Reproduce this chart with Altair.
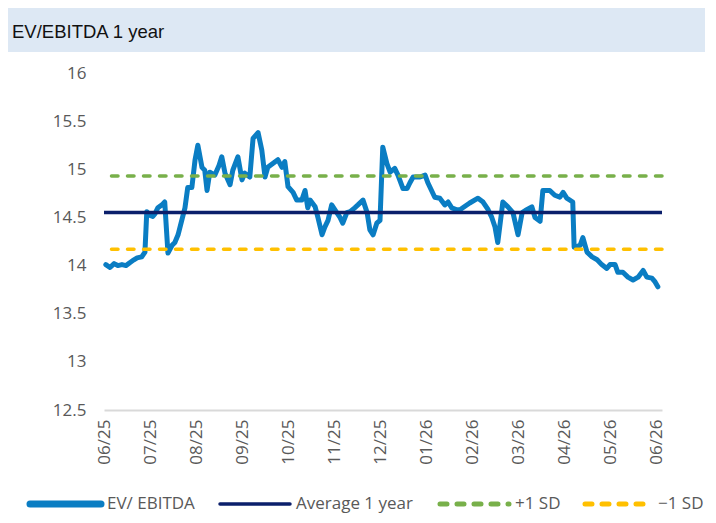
import json
import altair as alt
import pandas as pd

# ---------------- data ----------------
title_text = "EV/EBITDA 1 year"
month_labels = ["06/25", "07/25", "08/25", "09/25", "10/25", "11/25", "12/25",
                "01/26", "02/26", "03/26", "04/26", "05/26", "06/26"]
y_ticks = [12.5, 13, 13.5, 14, 14.5, 15, 15.5, 16]

# position in months since 06/25
t_pos = [0.02, 0.11, 0.20, 0.28, 0.37, 0.46, 0.54, 0.63, 0.70, 0.80, 0.87, 0.91, 0.98,
         1.04, 1.09, 1.15, 1.24, 1.30, 1.37, 1.46, 1.52, 1.59, 1.67, 1.74, 1.80, 1.89,
         1.96, 2.02, 2.11, 2.17, 2.22, 2.28, 2.39, 2.48, 2.54, 2.61, 2.72, 2.78, 2.89,
         2.98, 3.04, 3.15, 3.22, 3.33, 3.41, 3.48, 3.54, 3.65, 3.76, 3.85, 3.91, 3.98,
         4.09, 4.17, 4.28, 4.35, 4.41, 4.46, 4.57, 4.63, 4.72, 4.78, 4.85, 4.93, 5.04,
         5.11, 5.17, 5.26, 5.33, 5.43, 5.50, 5.61, 5.70, 5.76, 5.83, 5.91, 5.98, 6.04,
         6.13, 6.20, 6.30, 6.37, 6.48, 6.57, 6.63, 6.70, 6.85, 6.96, 7.02, 7.17, 7.28,
         7.39, 7.46, 7.54, 7.65, 7.72, 7.78, 7.93, 8.11, 8.22, 8.33, 8.41, 8.48, 8.54,
         8.65, 8.76, 8.87, 8.98, 9.07, 9.17, 9.28, 9.35, 9.46, 9.52, 9.67, 9.78, 9.89,
         9.96, 10.04, 10.17, 10.20, 10.33, 10.39, 10.48, 10.59, 10.70, 10.80, 10.91,
         10.98, 11.09, 11.15, 11.26, 11.37, 11.48, 11.59, 11.70, 11.78, 11.89, 11.96, 12.02]
ev_ebitda = [14.01, 13.98, 14.02, 14.00, 14.01, 14.00, 14.03, 14.06, 14.08, 14.09, 14.14, 14.56, 14.52,
             14.51, 14.54, 14.60, 14.63, 14.66, 14.13, 14.21, 14.24, 14.32, 14.47, 14.60, 14.81, 14.81,
             15.10, 15.25, 15.02, 14.99, 14.78, 14.97, 14.94, 15.04, 15.13, 14.96, 14.84, 14.99, 15.13,
             14.89, 14.96, 14.92, 15.32, 15.38, 15.20, 14.92, 15.02, 15.06, 15.10, 15.02, 15.08, 14.82,
             14.76, 14.68, 14.68, 14.78, 14.60, 14.68, 14.61, 14.50, 14.32, 14.40, 14.47, 14.63, 14.55,
             14.50, 14.44, 14.55, 14.56, 14.60, 14.63, 14.68, 14.55, 14.37, 14.32, 14.44, 14.47, 15.23,
             15.06, 14.97, 15.01, 14.94, 14.80, 14.80, 14.86, 14.92, 14.92, 14.94, 14.86, 14.71, 14.70,
             14.63, 14.66, 14.60, 14.58, 14.58, 14.60, 14.65, 14.70, 14.66, 14.58, 14.50, 14.40, 14.24,
             14.66, 14.61, 14.55, 14.32, 14.55, 14.58, 14.61, 14.50, 14.46, 14.78, 14.78, 14.73, 14.71,
             14.76, 14.70, 14.66, 14.19, 14.21, 14.29, 14.14, 14.09, 14.06, 14.01, 13.97,
             14.01, 14.01, 13.93, 13.93, 13.88, 13.85, 13.88, 13.95, 13.88, 13.87, 13.83, 13.78]

average_1y = 14.55
plus_1sd = 14.93
minus_1sd = 14.17
series_names = ["EV/ EBITDA", "Average 1 year", "+1 SD", "\u22121 SD"]

# ---------------- styles ----------------
BLUE = "#0a7dc3"
NAVY = "#0b1f6b"
GREEN = "#78b04a"
YELLOW = "#ffc000"
GREY = "#595959"
FONT = "Open Sans"
FS = 17

W, H = 558, 337

df = pd.DataFrame({"t": t_pos, "v": ev_ebitda})
one = pd.DataFrame({"k": [0]})

x_scale = alt.Scale(domain=[-0.02, 12.11], nice=False, zero=False)
y_scale = alt.Scale(domain=[12.5, 16], nice=False, zero=False)

label_expr = json.dumps(month_labels) + "[round(datum.value)]"

x_axis = alt.Axis(values=list(range(len(month_labels))), labelExpr=label_expr,
                  labelAngle=-90, grid=False, ticks=False, domainColor="#d9d9d9",
                  domainWidth=2, labelColor=GREY, labelFont=FONT, labelFontSize=FS,
                  labelPadding=9, title=None)
y_axis = alt.Axis(values=y_ticks, format="~g", grid=False, ticks=False, domain=False,
                  labelColor=GREY, labelFont=FONT, labelFontSize=FS, labelPadding=18,
                  title=None)

line = alt.Chart(df).mark_line(color=BLUE, strokeWidth=5, strokeJoin="round",
                               strokeCap="round").encode(
    x=alt.X("t:Q", scale=x_scale, axis=x_axis),
    y=alt.Y("v:Q", scale=y_scale, axis=y_axis),
)

def ref(val, color, dash=None):
    kw = dict(color=color, strokeWidth=3.5)
    if dash:
        kw.update(strokeDash=dash, strokeCap="round")
    return alt.Chart(pd.DataFrame({"v": [val]})).mark_rule(**kw).encode(
        y=alt.Y("v:Q", scale=y_scale))

avg_rule = ref(average_1y, NAVY)
plus_rule = ref(plus_1sd, GREEN, [6.5, 9.5])
minus_rule = ref(minus_1sd, YELLOW, [6.5, 9.5])

band = alt.Chart(one).mark_rect(color="#dde8f4").encode(
    x=alt.value(-96), x2=alt.value(601), y=alt.value(-65), y2=alt.value(-21))
title = alt.Chart(one).mark_text(align="left", baseline="alphabetic",
                                 font="Liberation Sans", fontSize=18.5,
                                 color="#111111").encode(
    x=alt.value(-92), y=alt.value(-35), text=alt.value(title_text))

# manual legend
leg_y = 431
leg_specs = [
    (series_names[0], BLUE, 7, None, -74, -3),
    (series_names[1], NAVY, 3.5, None, 116, 186),
    (series_names[2], GREEN, 5, [7, 10], 336, 405),
    (series_names[3], YELLOW, 5, [7, 10], 481, 548),
]
legend_layers = []
for name, color, sw, dash, x0, x1 in leg_specs:
    kw = dict(color=color, strokeWidth=sw, strokeCap="round")
    if dash:
        kw["strokeDash"] = dash
    legend_layers.append(alt.Chart(one).mark_rule(**kw).encode(
        x=alt.value(x0), x2=alt.value(x1), y=alt.value(leg_y)))
    legend_layers.append(alt.Chart(one).mark_text(
        align="left", baseline="middle", font=FONT, fontSize=FS, color=GREY).encode(
        x=alt.value(x1 + 6), y=alt.value(leg_y), text=alt.value(name)))

chart = alt.layer(band, title, line, avg_rule, plus_rule, minus_rule,
                  *legend_layers).properties(
    width=W, height=H,
    autosize=alt.AutoSizeParams(type="none"),
    padding={"left": 96, "top": 65, "right": 46, "bottom": 105},
    background="white",
).configure_view(stroke=None)

chart.save("out.html", embed_options={"renderer": "svg", "actions": False})
